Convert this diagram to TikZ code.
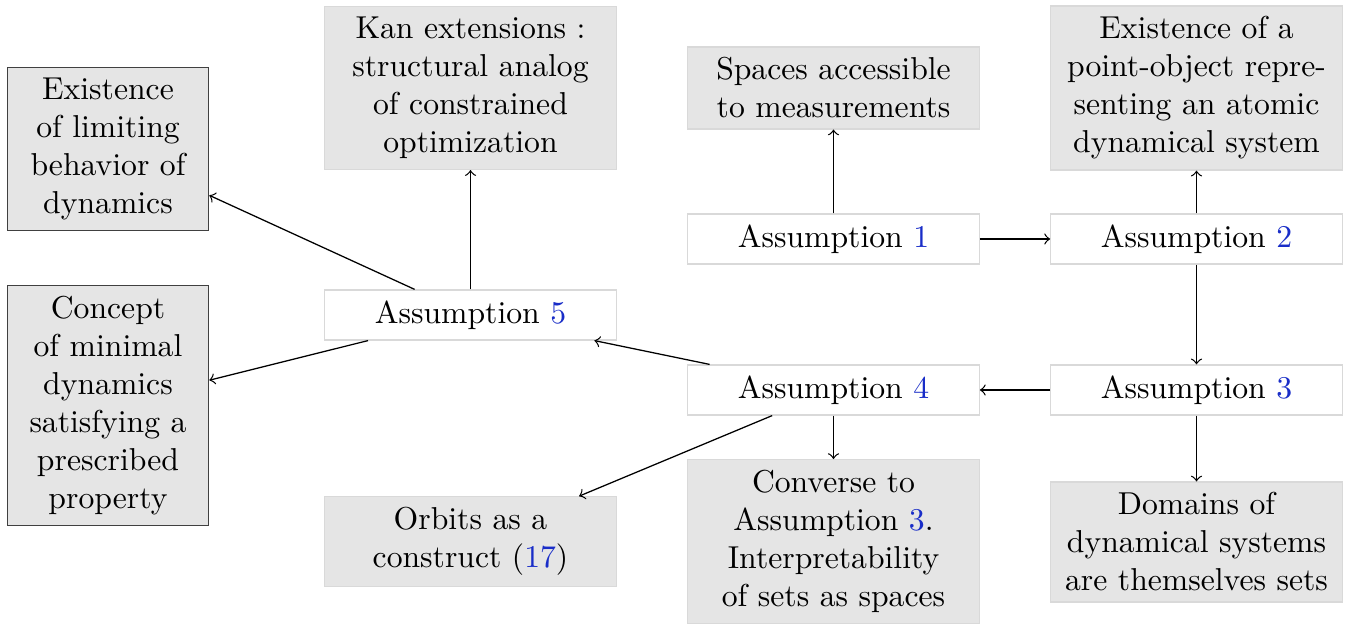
\documentclass[tikz,border=0pt]{standalone}
\usepackage{xcolor}
\definecolor{refblue}{RGB}{25,45,200}
\newcommand{\rf}[1]{\textcolor{refblue}{#1}}
\begin{document}
\begin{tikzpicture}[x=0.3157pt,y=-0.3157pt,
  gbox/.style={draw=black!15,fill=black!10,align=center,text width=3cm,font=\fontsize{10}{12}\selectfont},
  dbox/.style={draw=black!75,fill=black!10,align=center,text width=2cm,font=\fontsize{10}{12}\selectfont},
  abox/.style={draw=black!15,fill=white,align=center,text width=3cm,font=\fontsize{10}{12}\selectfont},
  conn/.style={->,black,line width=0.4pt}]
\useasboundingbox (0,0) rectangle (1351,624);
\node[dbox] (lim) at (108,149) {Existence\\of limiting\\behavior of\\dynamics};
\node[dbox] (min) at (108,405.5) {Concept\\of minimal\\dynamics\\satisfying a\\prescribed\\property};
\node[gbox] (kan) at (470.5,88) {Kan extensions :\\structural analog\\of constrained\\optimization};
\node[abox] (a5) at (470.5,315) {Assumption \rf{5}};
\node[gbox] (orb) at (470.5,541.5) {Orbits as a\\construct (\rf{17})};
\node[gbox] (spc) at (833.5,88) {Spaces accessible\\to measurements};
\node[abox] (a1) at (833.5,239) {Assumption \rf{1}};
\node[abox] (a4) at (833.5,390) {Assumption \rf{4}};
\node[gbox] (cnv) at (833.5,541.5) {Converse to\\Assumption \rf{3}.\\Interpretability\\of sets as spaces};
\node[gbox] (pt) at (1196.5,88) {Existence of a\\point-object repre-\\senting an atomic\\dynamical system};
\node[abox] (a2) at (1196.5,239) {Assumption \rf{2}};
\node[abox] (a3) at (1196.5,390) {Assumption \rf{3}};
\node[gbox] (dom) at (1196.5,542) {Domains of\\dynamical systems\\are themselves sets};
\draw[conn] (a1) -- (spc);
\draw[conn] (a1) -- (a2);
\draw[conn] (a2) -- (pt);
\draw[conn] (a2) -- (a3);
\draw[conn] (a3) -- (a4);
\draw[conn] (a3) -- (dom);
\draw[conn] (a4) -- (a5);
\draw[conn] (a4) -- (cnv);
\draw[conn] (a4) -- (orb);
\draw[conn] (a5) -- (kan);
\draw[conn] (a5) -- (lim);
\draw[conn] (a5) -- (min);
\end{tikzpicture}
\end{document}
